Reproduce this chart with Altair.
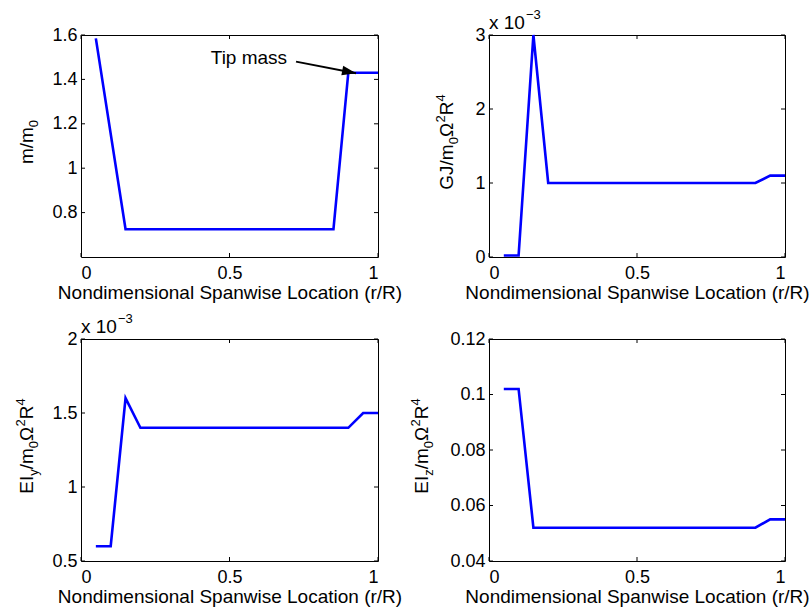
import altair as alt
import pandas as pd

FONT = "Liberation Sans, Arial, Helvetica, sans-serif"
BLUE = "#0000ff"

# ---------------- data ----------------
x_label = "Nondimensional Spanwise Location (r/R)"

mass_x = [0.05, 0.15, 0.85, 0.90, 1.00]
mass_y = [1.585, 0.725, 0.725, 1.43, 1.43]

gj_x = [0.05, 0.10, 0.15, 0.20, 0.90, 0.95, 1.00]
gj_y = [0.02, 0.02, 3.0, 1.0, 1.0, 1.1, 1.1]          # x 10^-3

eiy_x = [0.05, 0.10, 0.15, 0.20, 0.90, 0.95, 1.00]
eiy_y = [0.6, 0.6, 1.6, 1.4, 1.4, 1.5, 1.5]           # x 10^-3

eiz_x = [0.05, 0.10, 0.15, 0.90, 0.95, 1.00]
eiz_y = [0.102, 0.102, 0.052, 0.052, 0.055, 0.055]

x_ticks = [0, 0.5, 1]
mass_ticks = [0.8, 1.0, 1.2, 1.4, 1.6]
gj_ticks = [0, 1, 2, 3]
eiy_ticks = [0.5, 1, 1.5, 2]
eiz_ticks = [0.04, 0.06, 0.08, 0.10, 0.12]

mass_dom = [0.6, 1.6]
gj_dom = [0, 3]
eiy_dom = [0.5, 2]
eiz_dom = [0.04, 0.12]

tip_text = ["Tip mass"]
tip_text_x = [0.694]
tip_text_y = [1.471]
arrow_x = [0.724, 0.926]
arrow_y = [1.480, 1.428]

# ---------------- styling / layout ----------------
MAIN = 19
LABEL = 18
SMALL = 13
TICK = 4
SUB = 5
SUP = 8
W1, W2, H = 297, 296, 222

CW = {'E': 0.667, 'I': 0.278, 'y': 0.5, 'z': 0.5, '/': 0.278, 'm': 0.833,
      '0': 0.556, '2': 0.556, '4': 0.556, 'Ω': 0.768, 'R': 0.722,
      'G': 0.778, 'J': 0.5}


def title_layers(parts, cx, cy):
    sizes = [MAIN if k == 'n' else SMALL for _, k in parts]
    widths = [sum(CW[c] for c in t) * s for (t, _), s in zip(parts, sizes)]
    y = cy + sum(widths) / 2
    out = []
    for (t, k), s, w in zip(parts, sizes, widths):
        dx = {'n': 0, 'sub': SUB, 'sup': -SUP}[k]
        out.append(
            alt.Chart(pd.DataFrame({'t': [t]}))
            .mark_text(angle=270, align='left', baseline='alphabetic',
                       font=FONT, fontSize=s, color='black')
            .encode(x=alt.value(cx + dx), y=alt.value(y), text='t:N')
        )
        y -= w
    return out


def exponent_layers():
    return [
        alt.Chart(pd.DataFrame({'t': ['x 10']}))
        .mark_text(align='left', baseline='alphabetic', font=FONT,
                   fontSize=MAIN, color='black')
        .encode(x=alt.value(0), y=alt.value(-6), text='t:N'),
        alt.Chart(pd.DataFrame({'t': ['−3']}))
        .mark_text(align='left', baseline='alphabetic', font=FONT,
                   fontSize=SMALL, color='black')
        .encode(x=alt.value(37), y=alt.value(-16), text='t:N'),
    ]


def tick_layers(yticks, xs_, ys_, width):
    xt = pd.DataFrame({'v': x_ticks})
    yt = pd.DataFrame({'v': yticks})
    out = []
    for a, b in [(H, H - TICK), (0, TICK)]:
        out.append(alt.Chart(xt).mark_rule(color='black', strokeWidth=1).encode(
            x=alt.X('v:Q', scale=xs_, axis=None),
            y=alt.value(a), y2=alt.value(b)))
    for a, b in [(0, TICK), (width, width - TICK)]:
        out.append(alt.Chart(yt).mark_rule(color='black', strokeWidth=1).encode(
            y=alt.Y('v:Q', scale=ys_, axis=None),
            x=alt.value(a), x2=alt.value(b)))
    return out


def panel(xs, ys, yticks, ydom, width, title_parts, title_x,
          exponent=False, extra=None):
    df = pd.DataFrame({'x': xs, 'y': ys})
    xs_ = alt.Scale(domain=[0, 1], nice=False, zero=False)
    ys_ = alt.Scale(domain=ydom, nice=False, zero=False)
    main = alt.Chart(df).mark_line(color=BLUE, strokeWidth=2.6).encode(
        x=alt.X('x:Q', scale=xs_, axis=alt.Axis(
            values=x_ticks, labelExpr="toString(datum.value)", ticks=False,
            domain=False, grid=False, labelPadding=7, title=x_label,
            titlePadding=1)),
        y=alt.Y('y:Q', scale=ys_, axis=alt.Axis(
            values=yticks, labelExpr="toString(datum.value)", ticks=False,
            domain=False, grid=False, labelPadding=4, title="")),
    )
    layers = tick_layers(yticks, xs_, ys_, width) + [main]
    layers += title_layers(title_parts, title_x, H / 2 - 4)
    if exponent:
        layers += exponent_layers()
    if extra:
        layers += extra
    return alt.layer(*layers).resolve_axis(x='independent', y='independent') \
        .properties(width=width, height=H)


# annotation for first panel
xs_a = alt.Scale(domain=[0, 1], nice=False, zero=False)
ys_a = alt.Scale(domain=mass_dom, nice=False, zero=False)
tip_df = pd.DataFrame({'x': tip_text_x, 'y': tip_text_y, 't': tip_text})
arr_df = pd.DataFrame({'x': arrow_x, 'y': arrow_y})
tip_layers = [
    alt.Chart(tip_df).mark_text(align='right', baseline='alphabetic', font=FONT,
                                fontSize=MAIN, color='black').encode(
        x=alt.X('x:Q', scale=xs_a, axis=None),
        y=alt.Y('y:Q', scale=ys_a, axis=None), text='t:N'),
    alt.Chart(arr_df).mark_line(color='black', strokeWidth=2).encode(
        x=alt.X('x:Q', scale=xs_a, axis=None),
        y=alt.Y('y:Q', scale=ys_a, axis=None)),
    alt.Chart(arr_df.tail(1)).mark_point(
        shape="M0,0 L-2,-0.7 L-2,0.7 Z", size=196, angle=11,
        filled=True, color='black', opacity=1, strokeWidth=0).encode(
        x=alt.X('x:Q', scale=xs_a, axis=None),
        y=alt.Y('y:Q', scale=ys_a, axis=None)),
    # invisible anchor fixing the page origin
    alt.Chart(pd.DataFrame({'a': [0]})).mark_rule(opacity=0, strokeWidth=0).encode(
        x=alt.value(-80), x2=alt.value(-80), y=alt.value(-34), y2=alt.value(-34)),
]

p1 = panel(mass_x, mass_y, mass_ticks, mass_dom, W1,
           [('m/m', 'n'), ('0', 'sub')], -48, extra=tip_layers)
p2 = panel(gj_x, gj_y, gj_ticks, gj_dom, W2,
           [('GJ/m', 'n'), ('0', 'sub'), ('Ω', 'n'), ('2', 'sup'),
            ('R', 'n'), ('4', 'sup')], -36, exponent=True)
p3 = panel(eiy_x, eiy_y, eiy_ticks, eiy_dom, W1,
           [('EI', 'n'), ('y', 'sub'), ('/m', 'n'), ('0', 'sub'), ('Ω', 'n'),
            ('2', 'sup'), ('R', 'n'), ('4', 'sup')], -48, exponent=True)
p4 = panel(eiz_x, eiz_y, eiz_ticks, eiz_dom, W2,
           [('EI', 'n'), ('z', 'sub'), ('/m', 'n'), ('0', 'sub'), ('Ω', 'n'),
            ('2', 'sup'), ('R', 'n'), ('4', 'sup')], -61)

chart = alt.concat(p1, p2, p3, p4, columns=2,
                   spacing={'row': 82, 'column': 111}, bounds='flush') \
    .properties(padding=0, background='white') \
    .configure_axis(labelFont=FONT, labelFontSize=LABEL, labelColor='black',
                    titleFont=FONT, titleFontSize=MAIN, titleFontWeight='normal',
                    titleColor='black', tickColor='black', tickWidth=1) \
    .configure_view(stroke='black', strokeWidth=1)

chart.save("out.html", embed_options={"renderer": "svg", "actions": False})
